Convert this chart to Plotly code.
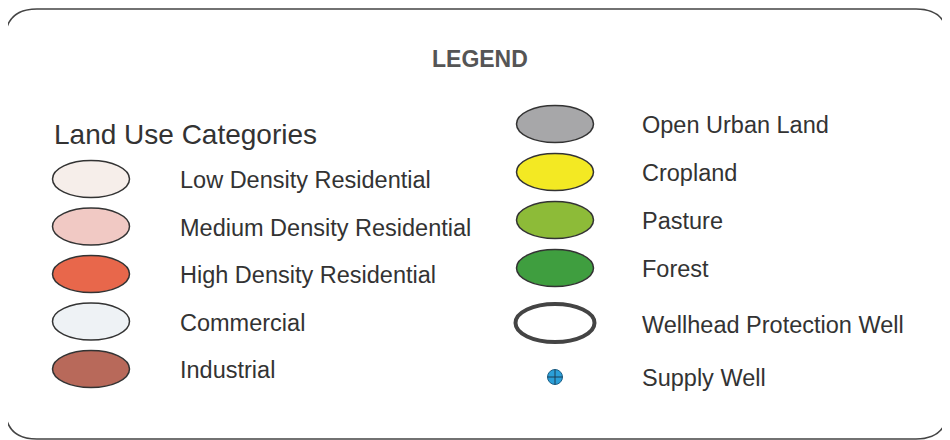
import plotly.graph_objects as go

# ---- data ----
title_text = "LEGEND"
group_title = "Land Use Categories"
left_labels = ["Low Density Residential", "Medium Density Residential",
               "High Density Residential", "Commercial", "Industrial"]
left_colors = ["#f6eeea", "#f1c9c4", "#e8674b", "#eef2f5", "#b8695a"]
right_labels = ["Open Urban Land", "Cropland", "Pasture", "Forest"]
right_colors = ["#a7a7a9", "#f3e923", "#8dbb38", "#3f9e3f"]
well_labels = ["Wellhead Protection Well", "Supply Well"]
supply_color = "#2b9fd8"

# ---- layout constants ----
W, H = 950, 440
OFF = 8  # page body margin, so data coords == window pixel coords
left_x, right_x = 91, 555
left_text_x, right_text_x = 178, 640
left_y0, left_dy = 179, 47.5
right_y0, right_dy = 124, 48
wellhead_y, supply_y = 323, 377
ew, eh = 77, 37
font = "Liberation Sans, Arial, sans-serif"
txt_col = "#333333"

fig = go.Figure()
fig.add_trace(go.Scatter(x=[OFF, W + OFF], y=[OFF, H + OFF], mode="markers",
                         marker=dict(opacity=0), hoverinfo="skip", showlegend=False))

shapes = []
annos = []

# rounded frame
x0, x1, y0, y1, r = 5, 948, 9, 439, 32
path = (f"M {x0+r},{y0} L {x1-r},{y0} Q {x1},{y0} {x1},{y0+r} "
        f"L {x1},{y1-r} Q {x1},{y1} {x1-r},{y1} L {x0+r},{y1} "
        f"Q {x0},{y1} {x0},{y1-r} L {x0},{y0+r} Q {x0},{y0} {x0+r},{y0} Z")
shapes.append(dict(type="path", path=path, xref="x", yref="y",
                   line=dict(color="#444444", width=1.5)))

annos.append(dict(x=480, y=59, text=f"<b>{title_text}</b>", showarrow=False,
                  xanchor="center", yanchor="middle",
                  font=dict(family=font, size=23, color="#555555")))
annos.append(dict(x=52, y=134, text=group_title, showarrow=False,
                  xanchor="left", yanchor="middle",
                  font=dict(family=font, size=28, color=txt_col)))

def ellipse(cx, cy, color, w=ew, h=eh, lw=1.5, lc="#333333"):
    shapes.append(dict(type="circle", xref="x", yref="y",
                       x0=cx - w / 2, x1=cx + w / 2, y0=cy - h / 2, y1=cy + h / 2,
                       fillcolor=color, line=dict(color=lc, width=lw)))

def label(x, y, t):
    annos.append(dict(x=x, y=y, text=t, showarrow=False, xanchor="left",
                      yanchor="middle",
                      font=dict(family=font, size=23.5, color=txt_col)))

for i, (lab, col) in enumerate(zip(left_labels, left_colors)):
    cy = left_y0 + i * left_dy
    ellipse(left_x, cy, col)
    label(left_text_x, cy + 1, lab)

for i, (lab, col) in enumerate(zip(right_labels, right_colors)):
    cy = right_y0 + i * right_dy
    ellipse(right_x, cy, col)
    label(right_text_x, cy + 1, lab)

# wellhead protection well
ellipse(right_x, wellhead_y, "white", w=79, h=38, lw=4, lc="#444444")
label(right_text_x, wellhead_y + 2, well_labels[0])

# supply well
rr = 7.5
shapes.append(dict(type="circle", xref="x", yref="y",
                   x0=right_x - rr, x1=right_x + rr, y0=supply_y - rr, y1=supply_y + rr,
                   fillcolor=supply_color, line=dict(color="#1d5f86", width=1)))
shapes.append(dict(type="line", xref="x", yref="y", x0=right_x - rr, x1=right_x + rr,
                   y0=supply_y, y1=supply_y, line=dict(color="#1b3d55", width=1)))
shapes.append(dict(type="line", xref="x", yref="y", x0=right_x, x1=right_x,
                   y0=supply_y - rr, y1=supply_y + rr, line=dict(color="#1b3d55", width=1)))
label(right_text_x, supply_y + 1, well_labels[1])

fig.update_layout(
    width=W, height=H, margin=dict(l=0, r=0, t=0, b=0),
    paper_bgcolor="white", plot_bgcolor="white",
    xaxis=dict(range=[OFF, W + OFF], visible=False, fixedrange=True),
    yaxis=dict(range=[H + OFF, OFF], visible=False, fixedrange=True),
    shapes=shapes, annotations=annos, showlegend=False,
)
fig.write_html("out.html")
